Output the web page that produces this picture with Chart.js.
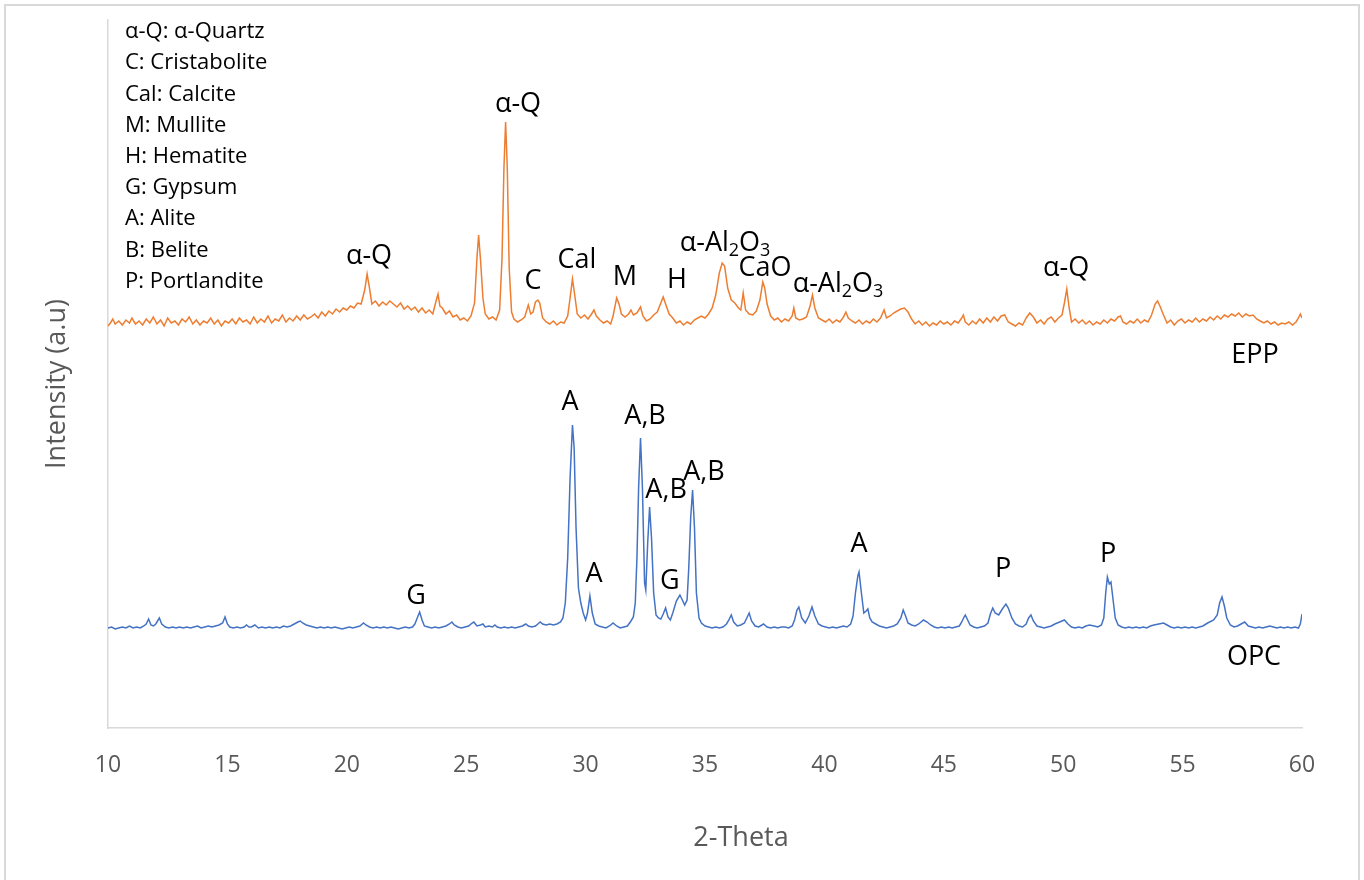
<!DOCTYPE html>
<html>
<head>
<meta charset="utf-8">
<script src="https://cdn.jsdelivr.net/npm/chart.js@4.4.1/dist/chart.umd.min.js"></script>
<style>
html,body{margin:0;padding:0;background:#fff;}
#frame{position:absolute;left:4px;top:4px;width:1356px;height:880px;border-top:2px solid #d9d9d9;border-left:2px solid #d9d9d9;border-right:2px solid #d9d9d9;box-sizing:border-box;pointer-events:none;}
canvas{position:absolute;left:0;top:0;}
</style>
</head>
<body>
<canvas id="c" width="1364" height="880"></canvas>
<div id="frame"></div>
<script>
// x-axis tick labels
const thetaTicks = [10, 15, 20, 25, 30, 35, 40, 45, 50, 55, 60];

// EPP pattern: [2-theta, intensity (a.u.)]
const eppPattern = [
[10.0,402],[10.1,405],[10.2,409],[10.3,404],[10.45,407],[10.6,403],[10.75,408],[10.9,405],[11.0,410],[11.15,404],
[11.3,407],[11.45,403],[11.6,409],[11.75,405],[11.9,411],[12.05,404],[12.2,408],[12.35,402],[12.5,410],[12.65,405],
[12.8,407],[12.95,403],[13.1,409],[13.25,406],[13.4,411],[13.55,404],[13.7,408],[13.85,403],[14.0,407],[14.15,405],
[14.3,410],[14.45,404],[14.6,408],[14.75,402],[14.9,407],[15.05,405],[15.2,409],[15.35,404],[15.5,410],[15.65,406],
[15.8,408],[15.95,404],[16.1,411],[16.25,405],[16.4,409],[16.55,406],[16.7,412],[16.85,405],[17.0,409],[17.15,407],
[17.3,413],[17.45,406],[17.6,410],[17.75,407],[17.9,412],[18.05,408],[18.2,413],[18.35,409],[18.5,411],[18.65,414],
[18.8,410],[18.95,416],[19.1,412],[19.25,417],[19.4,414],[19.55,419],[19.7,416],[19.85,420],[20.0,418],[20.15,422],
[20.3,420],[20.45,425],[20.6,424],[20.75,438],[20.85,454],[20.95,440],[21.05,424],[21.2,427],[21.35,422],[21.5,426],
[21.65,423],[21.8,427],[21.95,424],[22.1,421],[22.25,425],[22.4,419],[22.55,422],[22.7,418],[22.85,421],[23.0,416],
[23.15,420],[23.3,415],[23.45,418],[23.6,414],[23.75,428],[23.82,434],[23.9,422],[24.0,420],[24.15,414],[24.3,417],
[24.45,411],[24.6,413],[24.75,408],[24.9,410],[25.05,407],[25.2,412],[25.35,425],[25.45,470],[25.52,493],[25.6,468],
[25.7,430],[25.8,414],[25.95,409],[26.1,411],[26.25,408],[26.4,418],[26.5,470],[26.58,560],[26.65,606],[26.72,560],
[26.8,460],[26.9,416],[27.0,409],[27.15,406],[27.3,408],[27.45,411],[27.6,423],[27.7,414],[27.8,416],[27.9,426],
[28.0,428],[28.08,425],[28.2,410],[28.35,406],[28.5,404],[28.65,407],[28.8,403],[28.95,406],[29.1,405],[29.25,412],
[29.35,430],[29.45,449],[29.55,432],[29.65,414],[29.8,410],[29.95,413],[30.1,409],[30.25,414],[30.35,418],[30.45,412],
[30.6,408],[30.75,405],[30.9,407],[31.05,404],[31.15,412],[31.3,430],[31.4,424],[31.5,414],[31.65,411],[31.8,414],
[31.9,418],[32.0,413],[32.15,415],[32.3,421],[32.4,412],[32.55,407],[32.7,409],[32.85,413],[33.0,416],[33.15,425],
[33.25,431],[33.35,424],[33.5,414],[33.65,410],[33.8,405],[33.95,407],[34.1,403],[34.25,406],[34.4,404],[34.55,408],
[34.7,410],[34.85,412],[35.0,410],[35.15,414],[35.3,420],[35.45,433],[35.6,455],[35.72,465],[35.82,462],[35.95,440],
[36.1,428],[36.25,425],[36.4,420],[36.5,418],[36.6,435],[36.7,418],[36.85,414],[37.0,413],[37.15,417],[37.3,428],
[37.42,446],[37.5,440],[37.6,424],[37.75,412],[37.9,408],[38.05,410],[38.2,406],[38.35,409],[38.5,407],[38.65,412],
[38.72,420],[38.8,410],[38.95,408],[39.1,409],[39.25,411],[39.4,422],[39.5,433],[39.6,420],[39.75,410],[39.9,408],
[40.05,406],[40.2,409],[40.35,405],[40.5,408],[40.65,406],[40.8,411],[40.9,416],[41.0,410],[41.15,407],[41.3,405],
[41.45,408],[41.6,404],[41.75,407],[41.9,405],[42.05,409],[42.2,406],[42.35,410],[42.5,418],[42.6,410],[42.75,412],
[42.9,415],[43.05,417],[43.2,419],[43.35,420],[43.5,416],[43.65,409],[43.8,404],[43.95,407],[44.1,403],[44.25,406],
[44.4,402],[44.55,405],[44.7,403],[44.85,407],[45.0,404],[45.15,406],[45.3,403],[45.45,407],[45.6,405],[45.75,410],
[45.82,413],[45.9,406],[46.05,403],[46.2,407],[46.35,404],[46.5,409],[46.65,405],[46.8,410],[46.95,406],[47.1,411],
[47.25,407],[47.4,412],[47.55,413],[47.7,406],[47.85,404],[48.0,402],[48.15,405],[48.3,403],[48.45,410],[48.6,415],
[48.75,411],[48.9,405],[49.05,408],[49.2,404],[49.35,409],[49.5,411],[49.65,406],[49.8,410],[49.95,413],[50.05,425],
[50.15,439],[50.25,420],[50.35,406],[50.5,409],[50.65,405],[50.8,408],[50.95,404],[51.1,407],[51.25,403],[51.4,406],
[51.55,404],[51.7,408],[51.85,405],[52.0,409],[52.15,407],[52.3,411],[52.4,412],[52.5,406],[52.65,404],[52.8,407],
[52.95,405],[53.1,409],[53.25,405],[53.4,408],[53.55,406],[53.7,413],[53.85,424],[53.95,427],[54.05,422],[54.2,413],
[54.35,405],[54.5,408],[54.65,403],[54.8,407],[54.95,409],[55.1,405],[55.25,408],[55.4,406],[55.55,410],[55.7,406],
[55.85,409],[56.0,407],[56.15,411],[56.3,408],[56.45,412],[56.6,409],[56.75,413],[56.9,411],[57.05,414],[57.2,412],
[57.35,415],[57.5,411],[57.65,414],[57.8,412],[57.95,413],[58.1,409],[58.25,407],[58.4,405],[58.55,407],[58.7,404],
[58.85,406],[59.0,403],[59.15,405],[59.3,404],[59.45,406],[59.6,403],[59.75,406],[59.85,410],[59.93,414],[60.0,410]
];

// OPC pattern: [2-theta, intensity (a.u.)]
const opcPattern = [
[10.0,100],[10.15,101],[10.3,99],[10.45,100],[10.6,101],[10.75,100],[10.9,102],[11.05,100],[11.2,101],[11.35,100],
[11.5,102],[11.6,104],[11.7,109],[11.8,103],[11.9,102],[12.0,104],[12.15,110],[12.25,104],[12.4,101],[12.55,100],
[12.7,101],[12.85,100],[13.0,101],[13.15,100],[13.3,101],[13.45,100],[13.6,101],[13.75,102],[13.9,100],[14.05,101],
[14.2,102],[14.35,101],[14.5,102],[14.65,103],[14.8,105],[14.9,111],[15.0,104],[15.1,101],[15.25,100],[15.4,101],
[15.55,100],[15.7,101],[15.8,103],[15.9,101],[16.0,101],[16.15,103],[16.3,100],[16.45,101],[16.6,100],[16.75,101],
[16.9,100],[17.05,101],[17.2,100],[17.35,102],[17.5,101],[17.65,102],[17.8,104],[17.95,106],[18.05,107],[18.15,105],
[18.3,103],[18.45,102],[18.6,101],[18.75,100],[18.9,101],[19.05,100],[19.2,101],[19.35,100],[19.5,101],[19.65,100],
[19.8,99],[19.95,100],[20.1,101],[20.25,100],[20.4,101],[20.55,102],[20.7,105],[20.8,103],[20.95,101],[21.1,100],
[21.25,101],[21.4,100],[21.55,101],[21.7,100],[21.85,101],[22.0,100],[22.15,99],[22.3,100],[22.45,101],[22.6,100],
[22.75,101],[22.85,104],[22.95,110],[23.05,116],[23.15,108],[23.25,102],[23.4,101],[23.55,100],[23.7,101],[23.85,100],
[24.0,101],[24.15,102],[24.3,104],[24.4,106],[24.5,103],[24.65,101],[24.8,100],[24.95,101],[25.1,102],[25.25,105],
[25.32,106],[25.45,102],[25.6,103],[25.7,104],[25.8,101],[25.95,102],[26.1,101],[26.2,103],[26.3,101],[26.45,100],
[26.6,101],[26.75,100],[26.9,101],[27.05,100],[27.2,101],[27.35,102],[27.5,104],[27.6,102],[27.75,101],[27.9,102],
[28.0,104],[28.1,106],[28.2,104],[28.35,103],[28.5,104],[28.65,103],[28.8,104],[28.95,106],[29.05,110],[29.15,125],
[29.25,170],[29.35,250],[29.45,303],[29.52,280],[29.6,200],[29.7,140],[29.8,125],[29.9,115],[30.0,108],[30.08,115],
[30.18,132],[30.28,115],[30.4,104],[30.55,102],[30.7,101],[30.85,100],[31.0,102],[31.15,105],[31.3,102],[31.45,100],
[31.6,101],[31.75,102],[31.9,107],[32.0,111],[32.08,125],[32.15,170],[32.22,240],[32.3,290],[32.38,240],[32.47,145],
[32.52,138],[32.6,185],[32.68,221],[32.76,190],[32.85,135],[32.95,113],[33.05,110],[33.15,109],[33.25,114],[33.35,120],
[33.45,111],[33.55,108],[33.65,115],[33.8,127],[33.95,133],[34.05,128],[34.15,123],[34.25,128],[34.32,160],[34.4,210],
[34.48,238],[34.56,200],[34.64,135],[34.75,110],[34.85,105],[35.0,102],[35.15,101],[35.3,100],[35.45,101],[35.6,100],
[35.75,101],[35.9,104],[36.0,108],[36.1,113],[36.2,106],[36.35,102],[36.5,103],[36.65,105],[36.75,110],[36.85,115],
[36.95,107],[37.1,102],[37.25,101],[37.45,104],[37.6,101],[37.75,100],[37.9,101],[38.05,100],[38.2,101],[38.35,101],
[38.5,100],[38.65,102],[38.75,108],[38.85,118],[38.93,121],[39.05,110],[39.2,105],[39.35,112],[39.48,121],[39.6,112],
[39.75,104],[39.9,102],[40.05,101],[40.2,100],[40.35,101],[40.5,100],[40.65,101],[40.8,102],[40.95,101],[41.1,104],
[41.2,112],[41.3,135],[41.4,152],[41.45,156],[41.55,135],[41.65,115],[41.75,117],[41.82,119],[41.9,110],[42.0,106],
[42.15,104],[42.3,102],[42.45,101],[42.6,100],[42.75,101],[42.9,102],[43.05,104],[43.2,110],[43.3,118],[43.4,112],
[43.5,105],[43.65,103],[43.8,102],[43.95,104],[44.15,108],[44.3,106],[44.45,103],[44.6,101],[44.75,100],[44.9,101],
[45.05,100],[45.2,101],[45.35,100],[45.5,101],[45.65,102],[45.75,106],[45.85,111],[45.9,113],[46.0,108],[46.1,103],
[46.25,101],[46.4,100],[46.55,101],[46.7,102],[46.85,105],[46.95,114],[47.05,120],[47.15,115],[47.3,113],[47.45,119],
[47.6,124],[47.7,120],[47.85,110],[48.0,104],[48.15,102],[48.3,101],[48.45,104],[48.55,110],[48.65,113],[48.75,107],
[48.9,102],[49.05,101],[49.2,100],[49.35,101],[49.5,102],[49.65,104],[49.85,106],[50.05,108],[50.2,104],[50.35,101],
[50.5,100],[50.65,101],[50.8,100],[50.95,102],[51.1,103],[51.3,102],[51.45,101],[51.6,103],[51.7,110],[51.78,135],
[51.85,151],[51.93,144],[52.0,146],[52.08,130],[52.18,110],[52.3,103],[52.45,101],[52.6,100],[52.75,101],[52.9,100],
[53.05,101],[53.2,100],[53.35,101],[53.5,100],[53.65,102],[53.8,103],[54.0,104],[54.2,105],[54.35,103],[54.5,101],
[54.65,100],[54.8,101],[54.95,100],[55.1,101],[55.25,100],[55.4,101],[55.55,100],[55.7,101],[55.85,102],[56.05,105],
[56.3,108],[56.45,113],[56.55,125],[56.65,131],[56.75,122],[56.85,110],[57.0,103],[57.15,101],[57.3,102],[57.45,104],
[57.6,106],[57.75,102],[57.9,101],[58.05,100],[58.2,101],[58.35,100],[58.5,101],[58.65,102],[58.8,101],[58.95,100],
[59.1,101],[59.25,100],[59.4,101],[59.55,100],[59.7,101],[59.85,100],[59.93,104],[60.0,114]
];

// Phase key text
const phaseKey = ["α-Q: α-Quartz","C: Cristabolite","Cal: Calcite","M: Mullite","H: Hematite","G: Gypsum","A: Alite","B: Belite","P: Portlandite"];

// Peak annotations: [text, 2-theta, intensity]
const eppPeakLabels = [
["α-Q",20.93,472],["α-Q",27.17,624],["C",27.8,447],["Cal",29.64,468],["M",31.65,451],["H",33.83,448],
["α-Al2O3",35.84,485],["CaO",37.51,460],["α-Al2O3",40.57,444],["α-Q",50.12,460]
];
const opcPeakLabels = [
["G",22.9,132],["A",29.35,326],["A",30.35,154],["A,B",32.49,312],["A,B",33.37,238],["G",33.53,147],
["A,B",34.96,256],["A",41.45,184],["P",47.48,159],["P",51.88,174]
];
const seriesNames = [["EPP",58.03,373],["OPC",57.99,71]];

const FONT = '"Open Sans", "Noto Sans", sans-serif';

function drawRich(ctx, text, cx, cy, size) {
  let segs;
  if (text === "α-Al2O3") segs = [["α-Al",0],["2",1],["O",0],["3",1]];
  else segs = [[text,0]];
  const subSize = Math.round(size*0.65);
  let total = 0;
  segs.forEach(s => { ctx.font = (s[1]?subSize:size) + 'px ' + FONT; total += ctx.measureText(s[0]).width; });
  let x = cx - total/2;
  ctx.textAlign = 'left';
  ctx.textBaseline = 'middle';
  segs.forEach(s => {
    ctx.font = (s[1]?subSize:size) + 'px ' + FONT;
    ctx.fillText(s[0], x, cy + (s[1]? size*0.28 : 0));
    x += ctx.measureText(s[0]).width;
  });
}

const textPlugin = {
  id: 'texts',
  afterDraw(chart) {
    const ctx = chart.ctx, xs = chart.scales.x, ys = chart.scales.y, a = chart.chartArea;
    ctx.save();
    ctx.fillStyle = '#000';
    eppPeakLabels.concat(opcPeakLabels).forEach(l => drawRich(ctx, l[0], xs.getPixelForValue(l[1]), ys.getPixelForValue(l[2]), 27));
    seriesNames.forEach(l => drawRich(ctx, l[0], xs.getPixelForValue(l[1]), ys.getPixelForValue(l[2]), 27));
    ctx.font = '22px ' + FONT;
    ctx.textAlign = 'left'; ctx.textBaseline = 'middle';
    phaseKey.forEach((t, i) => ctx.fillText(t, a.left + 17, a.top + 12 + i*31.2));
    ctx.fillStyle = '#595959';
    ctx.font = '27px ' + FONT;
    ctx.textAlign = 'center';
    ctx.fillText('2-Theta', a.left + 633, a.bottom + 110);
    ctx.save();
    ctx.translate(a.left - 51, (a.top + a.bottom)/2 + 10);
    ctx.rotate(-Math.PI/2);
    ctx.fillText('Intensity (a.u)', 0, 0);
    ctx.restore();
    ctx.restore();
  }
};

new Chart(document.getElementById('c'), {
  type: 'line',
  data: {
    datasets: [
      { label: 'EPP', data: eppPattern.map(p => ({x:p[0], y:p[1]})), borderColor: '#ED7D31', borderWidth: 1.5, pointRadius: 0, tension: 0, fill: false },
      { label: 'OPC', data: opcPattern.map(p => ({x:p[0], y:p[1]})), borderColor: '#4472C4', borderWidth: 1.5, pointRadius: 0, tension: 0, fill: false }
    ]
  },
  options: {
    responsive: false,
    devicePixelRatio: 1,
    animation: false,
    layout: { padding: { left: 0, top: 20, right: 62, bottom: 0 } },
    plugins: { legend: { display: false }, tooltip: { enabled: false } },
    scales: {
      x: {
        type: 'linear', min: 10, max: 60,
        afterBuildTicks: s => { s.ticks = thetaTicks.map(v => ({value: v})); },
        ticks: { color: '#595959', font: { family: FONT, size: 23 }, padding: 16, maxRotation: 0, autoSkip: false },
        grid: { display: false },
        border: { display: true, color: '#d9d9d9', width: 1.5 },
        afterFit: s => { s.height = 152; }
      },
      y: {
        min: 0, max: 708,
        ticks: { display: false },
        grid: { display: false },
        border: { display: true, color: '#d9d9d9', width: 1.5 },
        afterFit: s => { s.width = 108; }
      }
    }
  },
  plugins: [textPlugin]
});
</script>
</body>
</html>
